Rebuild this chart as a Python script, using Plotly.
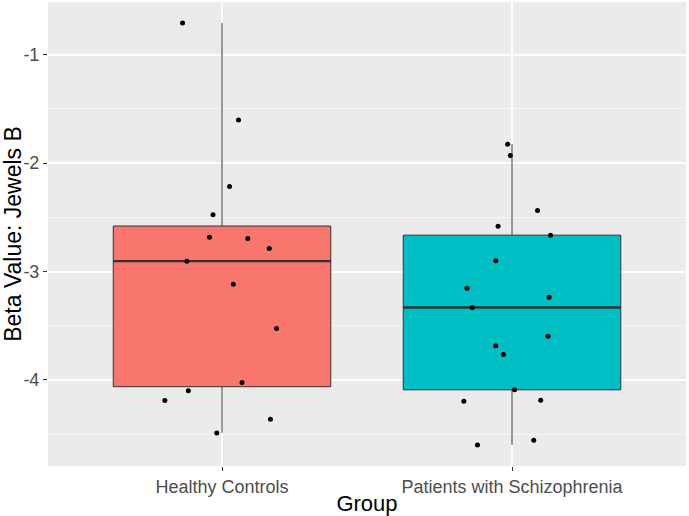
import numpy as np
import plotly.graph_objects as go

categories = ["Healthy Controls", "Patients with Schizophrenia"]
colors = ["#F8766D", "#00BFC4"]

healthy_values = [-0.708, -1.603, -2.216, -2.477, -2.683, -2.696, -2.788, -2.904,
                  -3.116, -3.526, -4.024, -4.100, -4.190, -4.362, -4.488]
healthy_jitter = [-0.136, 0.057, 0.026, -0.031, -0.043, 0.089, 0.163, -0.121,
                  0.039, 0.188, 0.069, -0.116, -0.197, 0.167, -0.018]

patient_values = [-1.825, -1.930, -2.437, -2.581, -2.664, -2.901, -3.155, -3.236,
                  -3.332, -3.596, -3.685, -3.766, -4.091, -4.196, -4.186, -4.599, -4.555]
patient_jitter = [-0.015, -0.006, 0.088, -0.048, 0.133, -0.056, -0.155, 0.128,
                  -0.137, 0.124, -0.056, -0.030, 0.009, -0.166, 0.099, -0.119, 0.075]

groups = [(healthy_values, healthy_jitter), (patient_values, patient_jitter)]
y_ticks = [-1, -2, -3, -4]

box_width = 0.75
fig = go.Figure()

for i, (vals, jit) in enumerate(groups):
    arr = np.array(vals)
    q1, med, q3 = np.percentile(arr, [25, 50, 75])
    iqr = q3 - q1
    lf = float(arr[arr >= q1 - 1.5 * iqr].min())
    uf = float(arr[arr <= q3 + 1.5 * iqr].max())
    fig.add_trace(go.Box(
        x=[i], q1=[q1], median=[med], q3=[q3], lowerfence=[lf], upperfence=[uf],
        width=box_width,
        fillcolor=colors[i], line=dict(color="#333333", width=1),
        whiskerwidth=0, hoverinfo="skip", showlegend=False,
    ))
    fig.add_trace(go.Scatter(
        x=[i - box_width / 2, i + box_width / 2], y=[med, med], mode="lines",
        line=dict(color="#333333", width=2.4), hoverinfo="skip", showlegend=False,
    ))

for i, (vals, jit) in enumerate(groups):
    fig.add_trace(go.Scatter(
        x=[i + j for j in jit], y=vals, mode="markers",
        marker=dict(color="black", size=5), hoverinfo="skip", showlegend=False,
    ))

all_vals = healthy_values + patient_values
lo, hi = min(all_vals), max(all_vals)
pad = 0.05 * (hi - lo)

fig.update_layout(
    width=689, height=516,
    margin=dict(l=48, r=3, t=2, b=50, autoexpand=False),
    paper_bgcolor="white", plot_bgcolor="#EBEBEB",
    font=dict(family="Liberation Sans, Arial, sans-serif"),
    showlegend=False,
)
fig.update_xaxes(
    range=[-0.6, 1.6], tickmode="array", tickvals=[0, 1], ticktext=categories,
    showgrid=True, gridcolor="white", gridwidth=1.5, zeroline=False,
    ticks="outside", ticklen=4, tickcolor="#333333", tickwidth=1,
    tickfont=dict(size=18, color="#4D4D4D"),
    title=dict(text="Group", font=dict(size=22, color="black"), standoff=0),
    showline=False, fixedrange=True, automargin=False,
)
fig.update_yaxes(
    range=[lo - pad, hi + pad], tickmode="array", tickvals=y_ticks,
    ticktext=[str(t) for t in y_ticks],
    showgrid=True, gridcolor="white", gridwidth=1.5, zeroline=False,
    minor=dict(dtick=0.5, tick0=0, showgrid=True, gridcolor="#F7F7F7", gridwidth=0.8),
    ticks="outside", ticklen=4, tickcolor="#333333", tickwidth=1,
    tickfont=dict(size=18, color="#4D4D4D"),
    title=dict(text="Beta Value: Jewels B", font=dict(size=23, color="black"), standoff=1),
    showline=False, fixedrange=True, automargin=False,
)

fig.write_html("out.html", config={"displayModeBar": False},
               post_script="document.body.style.margin='0px';")
